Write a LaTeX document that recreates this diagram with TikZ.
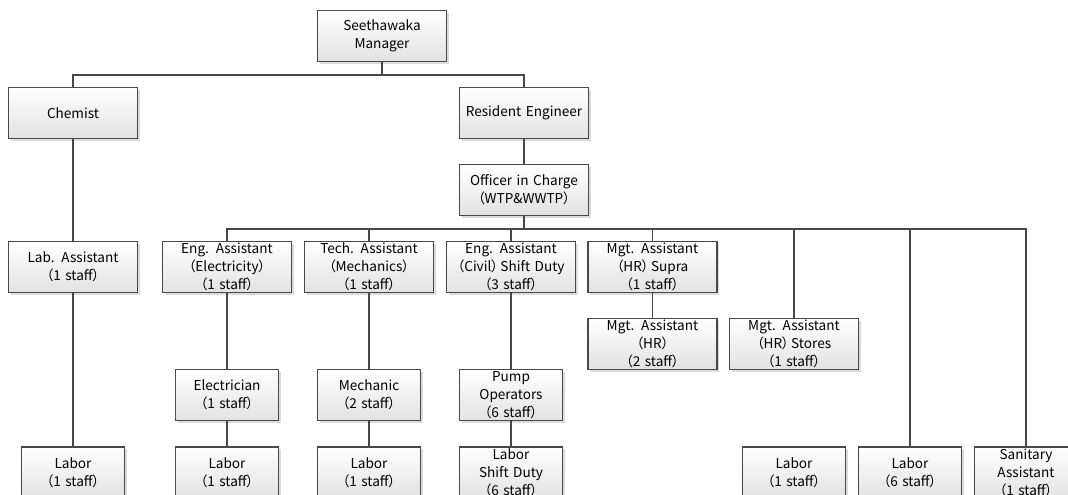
\documentclass[tikz,border=0pt]{standalone}
\usepackage{fontspec}
\setmainfont{Noto Sans CJK JP}[RawFeature=+palt]
\usetikzlibrary{shadows}
\definecolor{linegray}{RGB}{72,72,72}
\definecolor{boxbottom}{RGB}{226,226,226}
\tikzset{
  org/.style={draw=linegray, line width=0.9pt, rectangle, inner sep=1pt,
    top color=white, bottom color=boxbottom,
    drop shadow={shadow xshift=1.8pt, shadow yshift=-1.8pt, opacity=0.28, fill=gray},
    align=center, font=\fontsize{10.2}{13.5}\selectfont,
    minimum height=38.25pt},
  wide/.style={org, minimum width=96.75pt, text width=92pt},
  narrow/.style={org, minimum width=77.25pt, text width=74pt},
  link/.style={draw=linegray, line width=1pt}
}
\begin{document}
\begin{tikzpicture}[x=0.75pt,y=-0.75pt]
\useasboundingbox (0,0) rectangle (1068,495);
\clip (0,0) rectangle (1068,495);

% top levels
\node[wide] (mgr)  at (382,36)    {Seethawaka\\Manager};
\node[wide] (chem) at (73,113)    {Chemist};
\node[wide] (re)   at (524,113)   {Resident Engineer};
\node[wide] (oic)  at (524,189.7) {Officer in Charge\\（WTP\&WWTP）};

% second row
\node[wide] (lab)   at (73,267)    {Lab. Assistant\\（1 staff）};
\node[wide] (elec)  at (227,267)   {Eng. Assistant\\（Electricity）\\（1 staff）};
\node[wide] (tech)  at (369,267)   {Tech. Assistant\\（Mechanics）\\（1 staff）};
\node[wide] (civil) at (511,267)   {Eng. Assistant\\（Civil）\,Shift Duty\\（3 staff）};
\node[wide] (supra) at (652.5,267) {Mgt. Assistant\\（HR）\,Supra\\（1 staff）};

% third row
\node[wide] (mgthr)  at (652.5,344) {Mgt. Assistant\\（HR）\\（2 staff）};
\node[wide] (stores) at (794,344)   {Mgt. Assistant\\（HR）\,Stores\\（1 staff）};
\node[narrow] (elctn) at (227,395)   {Electrician\\（1 staff）};
\node[narrow] (mech)  at (369,395)   {Mechanic\\（2 staff）};
\node[narrow] (pump)  at (511,395)   {Pump\\Operators\\（6 staff）};

% bottom row
\node[narrow] (lab1)  at (73,472.5)    {Labor\\（1 staff）};
\node[narrow] (lab2)  at (227,472.5)   {Labor\\（1 staff）};
\node[narrow] (lab3)  at (369,472.5)   {Labor\\（1 staff）};
\node[narrow] (labsd) at (511,472.5)   {Labor\\Shift Duty\\（6 staff）};
\node[narrow] (lab4)  at (794,472.5)   {Labor\\（1 staff）};
\node[narrow] (lab5)  at (910,472.5)   {Labor\\（6 staff）};
\node[narrow] (sanit) at (1026,472.5)  {Sanitary\\Assistant\\（1 staff）};

% bus lines
\coordinate (busA) at (0,75);
\coordinate (busB) at (0,229);

\draw[link] (mgr.south) -- (mgr.south |- busA);
\draw[link] (chem.north) -- (chem.north |- busA) -- (re.north |- busA) -- (re.north);
\draw[link] (chem) -- (lab);
\draw[link] (lab) -- (lab1);
\draw[link] (re) -- (oic);

\draw[link] (oic.south) -- (oic.south |- busB);
\draw[link] (elec.north) -- (elec.north |- busB) -- (sanit.north |- busB) -- (sanit.north);
\draw[link] (tech.north)   -- (tech.north |- busB);
\draw[link] (civil.north)  -- (civil.north |- busB);
\draw[link] (supra.north)  -- (supra.north |- busB);
\draw[link] (stores.north) -- (stores.north |- busB);
\draw[link] (lab5.north)   -- (lab5.north |- busB);

\draw[link] (elec) -- (elctn);
\draw[link] (elctn) -- (lab2);
\draw[link] (tech) -- (mech);
\draw[link] (mech) -- (lab3);
\draw[link] (civil) -- (pump);
\draw[link] (pump) -- (labsd);
\draw[link] (supra) -- (mgthr);
\end{tikzpicture}
\end{document}
